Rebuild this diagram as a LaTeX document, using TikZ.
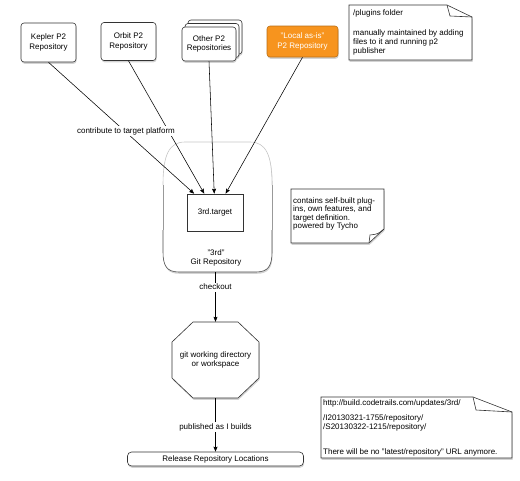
\documentclass[tikz,border=0pt]{standalone}
\usepackage{fontspec}
\setmainfont{Liberation Sans}
\usetikzlibrary{arrows.meta,shadows,calc}
\definecolor{orng}{HTML}{F7941E}
\begin{document}
\begin{tikzpicture}[x=1pt,y=-1pt,
  font=\fontsize{8}{9.5}\selectfont,
  shd/.style={drop shadow={shadow xshift=0.6pt,shadow yshift=-1.8pt,opacity=0.35}},
  repobox/.style={draw=black!80,fill=white,rounded corners=3pt,align=center,inner sep=1pt,line width=0.6pt,shd},
  conn/.style={line width=0.55pt,-{Stealth[length=5pt,width=4pt,inset=0.8pt]}},
  lbl/.style={fill=white,inner sep=1.5pt},
  note/.style={draw=black!80,fill=white,line width=0.6pt,shd},
  notetext/.style={anchor=north west,align=left,inner sep=0pt,font=\fontsize{8}{9}\selectfont}
]
\useasboundingbox (0,0) rectangle (520,480);

% top repositories
\node[repobox,minimum width=55pt,minimum height=39pt] (kepler) at (48.5,42.5) {Kepler P2\\Repository};
\node[repobox,minimum width=55pt,minimum height=38pt] (orbit) at (128.5,41.5) {Orbit P2\\Repository};
\node[repobox,minimum width=54pt,minimum height=34pt] (otherb) at (215,37) {};
\node[repobox,minimum width=54pt,minimum height=34pt] (otherm) at (212,40.5) {};
\node[repobox,minimum width=54pt,minimum height=34pt] (other) at (209,44) {Other P2\\Repositories};
\node[repobox,fill=orng,draw=orng!75!black,text=white,minimum width=71pt,minimum height=31pt] (local) at (302.5,41.5) {"Local as-is"\\P2 Repository};

% note 1
\path[note] (349,5) -- (447,5) -- (472,17) -- (472,60) -- (349,60) -- cycle;
\draw[line width=0.6pt,black!80] (447,5) .. controls (448,11) .. (450,16) -- (472,17);
\node[notetext] (n1) at (353,9) {/plugins folder\\[11pt]manually maintained by adding\\files to it and running p2\\publisher};

% git repository container
\path[fill=white,shd] (185,142) -- (250,142) .. controls (266,142) and (272,155) .. (272,185) -- (272,252) .. controls (272,266) and (268,272) .. (256,272) -- (179,272) .. controls (167,272) and (163,266) .. (163,252) -- (163,185) .. controls (163,155) and (169,142) .. (185,142) -- cycle;
\draw[black!22,line width=0.6pt] (163,185) .. controls (163,155) and (169,142) .. (185,142) -- (250,142) .. controls (266,142) and (272,155) .. (272,185);
\draw[black!40,line width=0.6pt] (272,185) -- (272,230);
\draw[black!40,line width=0.6pt] (163,185) -- (163,230);
\draw[black!70,line width=0.6pt] (272,230) -- (272,252) .. controls (272,266) and (268,272) .. (256,272) -- (179,272) .. controls (167,272) and (163,266) .. (163,252) -- (163,230);
\node[minimum width=109pt,minimum height=130pt,inner sep=0pt] (git) at (217.5,207) {};
\node[align=center,inner sep=0pt] (gitlbl) at (216,258) {"3rd"\\Git Repository};

\node[draw=black!80,fill=white,line width=0.6pt,minimum width=56pt,minimum height=37pt,inner sep=0pt] (target) at (215,212.5) {3rd.target};

% connectors into the target
\draw[conn] (kepler.south) -- (target);
\draw[conn] (orbit.south) -- (target);
\draw[conn] (other.south) -- (target);
\draw[conn] (local.south) -- (target);
\node[lbl] (contrib) at (126,131) {contribute to target platform};

% note 2
\path[note] (291,189) -- (384,189) -- (384,229) -- (369,243) -- (291,243) -- cycle;
\draw[line width=0.6pt,black!80] (384,229) .. controls (378,234) .. (370,235) -- (369,243);
\node[notetext,font=\fontsize{8}{8.5}\selectfont] (n2) at (293,197) {contains self-built plug-\\ins, own features, and\\target definition.\\powered by Tycho};

% working directory octagon
\path[fill=white,draw=black!80,line width=0.6pt,shd] (193,322) -- (238,322) -- (259,342) -- (259,378) -- (238,398) -- (193,398) -- (172,378) -- (172,342) -- cycle;
\node[minimum width=87pt,minimum height=76pt,inner sep=0pt,align=center] (wd) at (215.5,360) {git working directory\\or workspace};

\draw[conn] (wd.north |- git.south) -- node[lbl,pos=0.3] (chk) {checkout} (wd.north);

% release
\node[repobox,rounded corners=4pt,minimum width=176pt,minimum height=14pt,inner sep=0pt] (rel) at (215.5,459) {Release Repository Locations};
\draw[conn] (wd.south) -- node[lbl,pos=0.54] (pub) {published as I builds} (rel.north);

% note 3
\path[note] (321,397) -- (473,397) -- (512,412) -- (512,458) -- (321,458) -- cycle;
\draw[line width=0.6pt,black!80] (473,397) .. controls (474,404) .. (476,410) -- (512,412);
\node[notetext] (n3) at (323,399.5) {http://build.codetrails.com/updates/3rd/\\[6pt]/I20130321-1755/repository/\\/S20130322-1215/repository/\\[16pt]There will be no "latest/repository" URL anymore.};
\end{tikzpicture}
\end{document}
